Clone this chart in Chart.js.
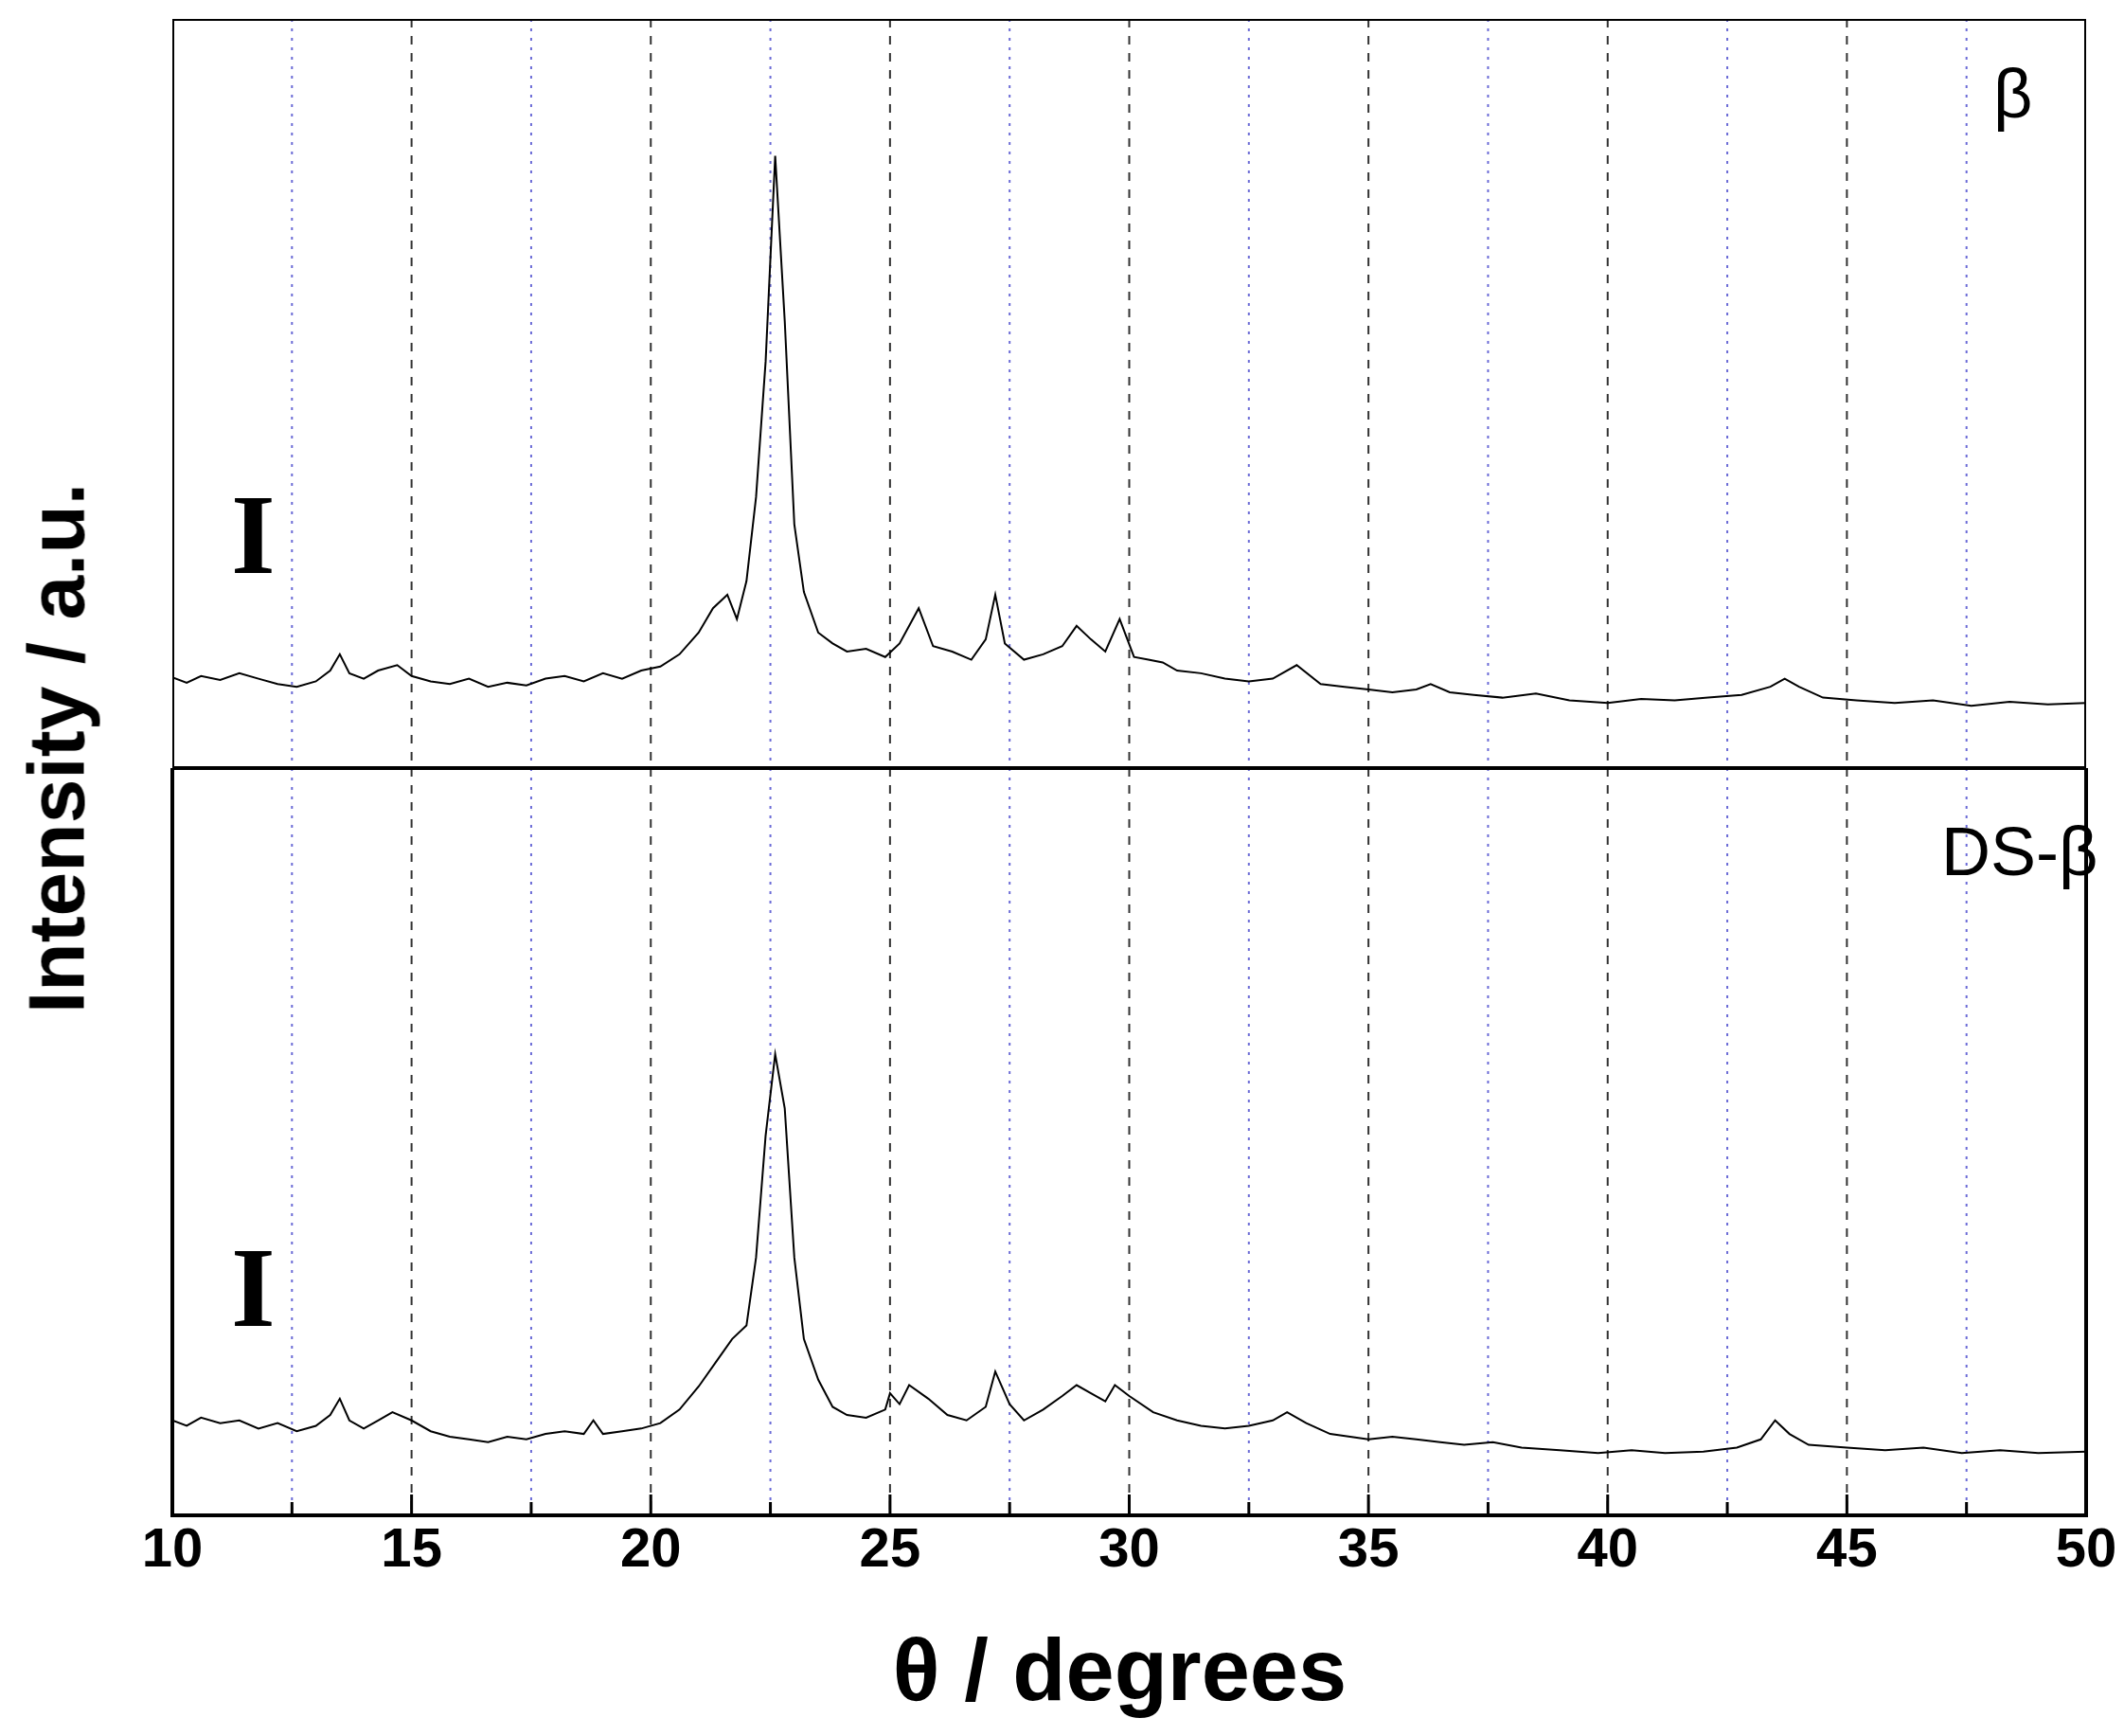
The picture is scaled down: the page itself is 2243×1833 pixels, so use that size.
<!DOCTYPE html>
<html><head><meta charset="utf-8">
<script src="https://cdn.jsdelivr.net/npm/chart.js@4"></script>
<style>
  body{margin:0;width:2243px;height:1833px;background:#fff;position:relative;overflow:hidden;font-family:Arial,"Liberation Sans",sans-serif}
  .c{position:absolute}
  .lbl{position:absolute;font-size:72px;color:#000;white-space:nowrap}
  .bar{position:absolute;font-family:"Liberation Serif",serif;font-weight:bold;font-size:120px;line-height:1}
  #ylab{position:absolute;left:60px;top:790px;transform:translate(-50%,-50%) rotate(-90deg);font-weight:bold;font-size:84px;white-space:nowrap}
</style></head>
<body>
<div class="c" style="left:182px;top:20px;width:2021px;height:791px"><canvas id="top"></canvas></div>
<div class="c" style="left:100px;top:811px;width:2143px;height:1022px"><canvas id="bot"></canvas></div>
<div id="ylab">Intensity / a.u.</div>
<div class="lbl" style="left:2105px;top:58px">β</div>
<div class="lbl" style="left:2050px;top:858px">DS-β</div>
<div class="bar" style="left:244px;top:505px">I</div>
<div class="bar" style="left:244px;top:1300px">I</div>
<script>
// 2θ (deg), intensity (a.u.)
const xTicks = [10,15,20,25,30,35,40,45,50];
const topPairs = [[10,67],[10.3,63],[10.6,68],[11,65],[11.4,70],[11.8,66],[12.2,62],[12.6,60],[13,64],[13.3,72],[13.5,84],[13.7,70],[14,66],[14.3,72],[14.7,76],[15,68],[15.4,64],[15.8,62],[16.2,66],[16.6,60],[17,63],[17.4,61],[17.8,66],[18.2,68],[18.6,64],[19,70],[19.4,66],[19.8,72],[20.2,75],[20.6,84],[21,100],[21.3,118],[21.6,128],[21.8,110],[22,138],[22.2,200],[22.4,300],[22.6,452],[22.8,330],[23,180],[23.2,130],[23.5,100],[23.8,92],[24.1,86],[24.5,88],[24.9,82],[25.2,92],[25.6,118],[25.9,90],[26.3,86],[26.7,80],[27,95],[27.2,128],[27.4,92],[27.8,80],[28.2,84],[28.6,90],[28.9,105],[29.2,95],[29.5,86],[29.8,110],[30.1,82],[30.4,80],[30.7,78],[31,72],[31.5,70],[32,66],[32.5,64],[33,66],[33.5,76],[34,62],[34.5,60],[35,58],[35.5,56],[36,58],[36.3,62],[36.7,56],[37.2,54],[37.8,52],[38.5,55],[39.2,50],[40,48],[40.7,51],[41.4,50],[42.1,52],[42.8,54],[43.4,60],[43.7,66],[44,60],[44.5,52],[45.2,50],[46,48],[46.8,50],[47.6,46],[48.4,49],[49.2,47],[50,48]];
const botPairs = [[10,70],[10.3,66],[10.6,72],[11,68],[11.4,70],[11.8,64],[12.2,68],[12.6,62],[13,66],[13.3,74],[13.5,86],[13.7,70],[14,64],[14.3,70],[14.6,76],[15,70],[15.4,62],[15.8,58],[16.2,56],[16.6,54],[17,58],[17.4,56],[17.8,60],[18.2,62],[18.6,60],[18.8,70],[19,60],[19.4,62],[19.8,64],[20.2,68],[20.6,78],[21,95],[21.4,115],[21.7,130],[22,140],[22.2,190],[22.4,280],[22.6,340],[22.8,300],[23,190],[23.2,130],[23.5,100],[23.8,80],[24.1,74],[24.5,72],[24.9,78],[25,90],[25.2,82],[25.4,96],[25.8,86],[26.2,74],[26.6,70],[27,80],[27.2,106],[27.5,82],[27.8,70],[28.2,78],[28.6,88],[28.9,96],[29.2,90],[29.5,84],[29.7,96],[30,88],[30.5,76],[31,70],[31.5,66],[32,64],[32.5,66],[33,70],[33.3,76],[33.7,68],[34.2,60],[35,56],[35.5,58],[36,56],[36.5,54],[37,52],[37.6,54],[38.2,50],[39,48],[39.8,46],[40.5,48],[41.2,46],[42,47],[42.7,50],[43.2,56],[43.5,70],[43.8,60],[44.2,52],[45,50],[45.8,48],[46.6,50],[47.4,46],[48.2,48],[49,46],[50,47]];
const vDash = [15,20,25,30,35,40,45];
const vDot = [12.5,17.5,22.5,27.5,32.5,37.5,42.5,47.5];

const frame = {
  id:'frame',
  beforeDatasetsDraw(chart){
    const {ctx, chartArea:a, scales:{x}} = chart;
    ctx.save(); ctx.lineWidth = 2;
    ctx.setLineDash([9,9]); ctx.strokeStyle = '#333';
    vDash.forEach(v => { const p = x.getPixelForValue(v); ctx.beginPath(); ctx.moveTo(p,a.top); ctx.lineTo(p,a.bottom); ctx.stroke(); });
    ctx.setLineDash([3,7]); ctx.strokeStyle = '#6b6bd6';
    vDot.forEach(v => { const p = x.getPixelForValue(v); ctx.beginPath(); ctx.moveTo(p,a.top); ctx.lineTo(p,a.bottom); ctx.stroke(); });
    ctx.restore();
  },
  afterDraw(chart, args, opts){
    const {ctx, chartArea:a, scales:{x}} = chart;
    ctx.save(); ctx.strokeStyle = '#000'; ctx.lineWidth = 4;
    ctx.strokeRect(a.left, a.top, a.width, a.height);
    if (opts.axis) {
      ctx.lineWidth = 3;
      for (let v = 12.5; v < 50; v += 2.5) {
        const p = x.getPixelForValue(v), len = v % 5 === 0 ? 22 : 14;
        ctx.beginPath(); ctx.moveTo(p, a.bottom); ctx.lineTo(p, a.bottom - len); ctx.stroke();
      }
      ctx.fillStyle = '#000'; ctx.textAlign = 'center'; ctx.textBaseline = 'middle';
      ctx.font = 'bold 58px Arial, "Liberation Sans"';
      xTicks.forEach(v => ctx.fillText(String(v), x.getPixelForValue(v), a.bottom + 38));
      ctx.font = 'bold 92px Arial, "Liberation Sans"';
      ctx.fillText('θ / degrees', x.getPixelForValue(30) - 10, a.bottom + 170);
    }
    ctx.restore();
  }
};

function makePanel(id, pairs, ymax, axis, pad) {
  new Chart(document.getElementById(id), {
    type:'line',
    data:{ datasets:[{ data: pairs.map(p => ({x:p[0], y:p[1]})), borderColor:'#000', borderWidth:2, pointRadius:0, tension:0 }] },
    options:{
      responsive:true, maintainAspectRatio:false, animation:false,
      layout:{ padding: pad },
      plugins:{ legend:{display:false}, tooltip:{enabled:false}, frame:{axis} },
      scales:{
        x:{ type:'linear', min:10, max:50, display:false },
        y:{ min:0, max:ymax, display:false }
      }
    },
    plugins:[frame]
  });
}
makePanel('top', topPairs, 553, false, 0);
makePanel('bot', botPairs, 551, true, {left:82, right:40, top:0, bottom:233});
</script>
</body></html>
